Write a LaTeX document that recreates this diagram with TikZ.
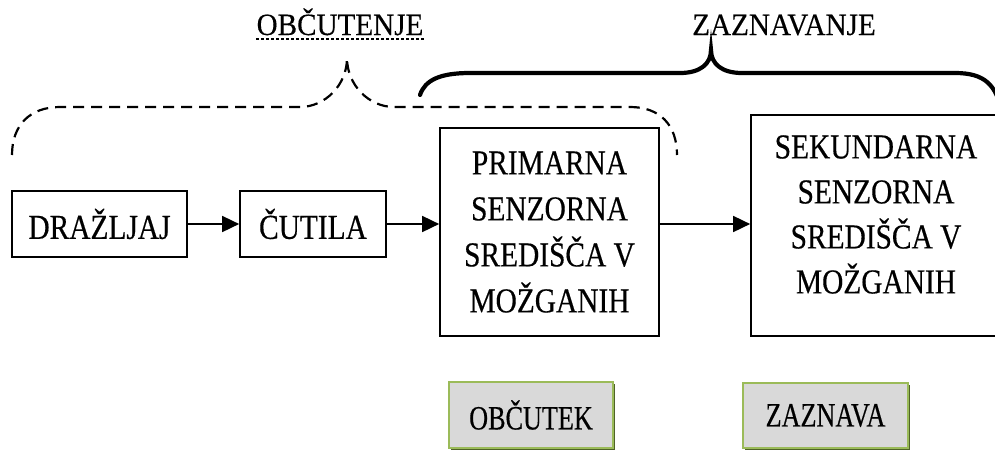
\documentclass[tikz,border=0pt]{standalone}
\usepackage{fontspec}
\setmainfont{Liberation Serif}
\newfontfamily\boxfont[FakeStretch=0.84,FakeBold=0.4]{Liberation Serif}
\newfontfamily\topfont[FakeStretch=0.94,FakeBold=0.3]{Liberation Serif}
\newfontfamily\botfont[FakeStretch=0.77,FakeBold=0.4]{Liberation Serif}
\usetikzlibrary{arrows.meta,shadows}
\definecolor{bordergreen}{HTML}{9BBB59}
\definecolor{shadowgreen}{HTML}{4F6228}
\definecolor{boxgray}{HTML}{D9D9D9}
\begin{document}
\begin{tikzpicture}[x=1pt,y=-1pt,
  box/.style={draw,line width=1.7pt,inner sep=0pt,align=center,
    font=\boxfont\fontsize{35}{46}\selectfont},
  resbox/.style={draw=bordergreen,fill=boxgray,line width=2.8pt,inner sep=0pt,
    font=\botfont\fontsize{34}{40}\selectfont,
    general shadow={fill=shadowgreen,shadow xshift=2.2pt,shadow yshift=-2.2pt}},
  toplabel/.style={inner sep=0pt,anchor=base,font=\topfont\fontsize{31}{36}\selectfont},
  arr/.style={line width=1.7pt,-{Triangle[length=17pt,width=16pt]}},
  dbrace/.style={line width=2.2pt,dash pattern=on 11pt off 7pt},
  sbrace/.style={line width=4.2pt,line cap=round}
]
\useasboundingbox (0,0) rectangle (995,450);
\clip (0,0) rectangle (995,450);

% top labels
\node[toplabel] (obc) at (340,35) {OBČUTENJE};
\draw[line width=2.4pt,dash pattern=on 2.4pt off 2.6pt] ([yshift=-4pt]obc.base west) -- ([yshift=-4pt]obc.base east);
\node[toplabel] (zaz) at (784,35) {ZAZNAVANJE};

% dashed brace (občutenje)
\draw[dbrace] (12,155) .. controls (12,125) and (30,107) .. (60,107)
  -- (300,107) .. controls (325,107) and (347,85) .. (347,58)
  .. controls (347,85) and (369,107) .. (394,107)
  -- (630,107) .. controls (660,107) and (677,125) .. (677,155);

% solid brace (zaznavanje)
\draw[sbrace] (420,95) .. controls (425,80) and (440,73) .. (470,73)
  -- (680,73) .. controls (700,73) and (711,64) .. (711,50)
  .. controls (711,64) and (722,73) .. (742,73)
  -- (955,73) .. controls (985,73) and (996,85) .. (1002,112);

% flow boxes
\node[box,minimum width=175pt,minimum height=66pt] (draz) at (99.5,224) {DRAŽLJAJ};
\node[box,minimum width=146pt,minimum height=66pt] (cut) at (313,224) {ČUTILA};
\node[box,minimum width=219pt,minimum height=208pt] (prim) at (549.5,232)
  {PRIMARNA\\SENZORNA\\SREDIŠČA V\\MOŽGANIH};
\node[box,minimum width=250pt,minimum height=221pt] (sek) at (876,225.5) {};
\node[inner sep=0pt,align=center,font=\boxfont\fontsize{35}{45}\selectfont] (sektxt)
  at ([yshift=11pt]sek.center) {SEKUNDARNA\\SENZORNA\\SREDIŠČA V\\MOŽGANIH};

% connectors
\draw[arr] (draz.east) -- (cut.west);
\draw[arr] (cut.east) -- (cut.east -| prim.west);
\draw[arr] ([yshift=8pt]prim.east) -- ([yshift=8pt]prim.east -| sek.west);

% result boxes
\node[resbox,minimum width=164pt,minimum height=66pt] (obct) at (531,415) {OBČUTEK};
\node[resbox,minimum width=165pt,minimum height=65pt] (zazv) at (825.5,415.5) {ZAZNAVA};
\end{tikzpicture}
\end{document}
